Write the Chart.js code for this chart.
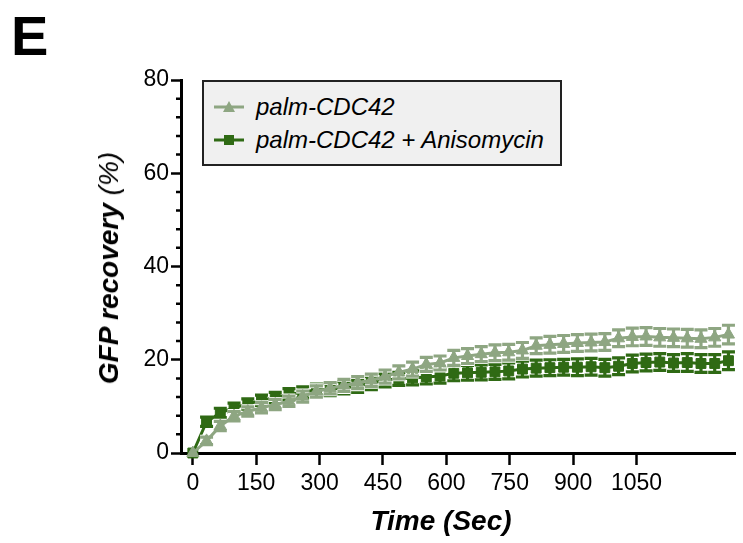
<!DOCTYPE html>
<html>
<head>
<meta charset="utf-8">
<script src="https://cdn.jsdelivr.net/npm/chart.js@4.4.1/dist/chart.umd.min.js"></script>
<style>
  body { margin: 0; background: #fff; }
  #wrap { position: relative; width: 743px; height: 543px; font-family: "Liberation Sans", Arial, sans-serif; }
  #c { position: absolute; left: 0; top: 0; }
  .lbl { position: absolute; color: #000; white-space: nowrap; }
  #panel { left: 11px; top: 3px; font-size: 56px; font-weight: bold; }
  #ytitle { left: 109px; top: 268px; font-size: 28px; font-style: italic; transform: translate(-50%, -50%) rotate(-90deg); }
  #xtitle { left: 441px; top: 521px; font-size: 28px; font-style: italic; font-weight: bold; transform: translate(-50%, -50%); }
  #legend { position: absolute; left: 202px; top: 80px; width: 356px; height: 82px; background: #f0f0f0; border: 2px solid #222; }
  .item { position: absolute; left: 10px; height: 30px; display: flex; align-items: center; font-size: 24px; font-style: italic; }
  .item svg { margin-right: 12px; }
</style>
</head>
<body>
<div id="wrap">
  <canvas id="c" width="743" height="543"></canvas>
  <div class="lbl" id="panel">E</div>
  <div class="lbl" id="ytitle"><b>GFP recovery</b> (%)</div>
  <div class="lbl" id="xtitle">Time (Sec)</div>
  <div id="legend">
    <div class="item" style="top:10px">
      <svg width="30" height="14"><line x1="0" y1="7" x2="30" y2="7" stroke="#8ea682" stroke-width="3"/><polygon points="15,1 21,12 9,12" fill="#8ea682"/></svg>
      palm-CDC42
    </div>
    <div class="item" style="top:43px">
      <svg width="30" height="14"><line x1="0" y1="7" x2="30" y2="7" stroke="#2f6a14" stroke-width="3"/><rect x="10" y="2" width="10" height="10" fill="#2f6a14"/></svg>
      palm-CDC42 + Anisomycin
    </div>
  </div>
</div>
<script>
// time points (sec)
const times = [0, 32.5, 65, 97.5, 130, 162.5, 195, 227.5, 260, 292.5, 325, 357.5, 390, 422.5, 455, 487.5, 520, 552.5, 585, 617.5,
  650, 682.5, 715, 747.5, 780, 812.5, 845, 877.5, 910, 942.5, 975, 1007.5, 1040, 1072.5, 1105, 1137.5, 1170, 1202.5, 1235, 1267.5];

// palm-CDC42
const palm = [0, 2.6, 5.8, 7.9, 8.9, 9.7, 10.4, 11.1, 12.1, 13.2, 13.9, 14.5, 15.1, 15.6, 16.4, 17.3, 18.0, 19.0, 19.3, 20.4,
  20.8, 21.2, 21.5, 21.6, 22.0, 23.0, 23.2, 23.4, 23.6, 23.7, 23.8, 24.6, 24.9, 25.0, 24.8, 24.7, 24.6, 24.5, 24.8, 25.4];
const palmErr = [0, 0.8, 1.0, 1.0, 1.0, 1.1, 1.1, 1.1, 1.2, 1.2, 1.2, 1.3, 1.3, 1.3, 1.4, 1.4, 1.5, 1.5, 1.5, 1.6,
  1.6, 1.6, 1.7, 1.7, 1.7, 1.7, 1.8, 1.8, 1.8, 1.8, 1.8, 1.8, 1.9, 1.9, 1.9, 1.9, 1.9, 1.9, 1.9, 2.0];

// palm-CDC42 + Anisomycin
const aniso = [0, 6.7, 8.6, 9.7, 10.5, 11.3, 11.9, 12.6, 13.0, 13.6, 13.6, 14.0, 14.3, 15.0, 15.6, 15.9, 16.1, 16.3, 16.5, 17.1,
  17.2, 17.3, 17.4, 17.6, 18.0, 18.2, 18.3, 18.4, 18.4, 18.5, 18.3, 18.6, 19.2, 19.4, 19.5, 19.3, 19.4, 19.2, 19.2, 19.8];
const anisoErr = [0, 1.0, 1.0, 1.0, 1.1, 1.1, 1.1, 1.2, 1.2, 1.2, 1.3, 1.3, 1.3, 1.4, 1.4, 1.4, 1.5, 1.5, 1.5, 1.6,
  1.6, 1.6, 1.6, 1.7, 1.7, 1.7, 1.7, 1.7, 1.8, 1.8, 1.8, 1.8, 1.8, 1.8, 1.8, 1.8, 1.9, 1.9, 1.9, 1.9];

const xTicks = [0, 150, 300, 450, 600, 750, 900, 1050];
const yTicks = [0, 20, 40, 60, 80];
const yMinor = [4, 8, 12, 16, 24, 28, 32, 36, 44, 48, 52, 56, 64, 68, 72, 76];

const LIGHT = '#8ea682';
const DARK = '#2f6a14';
const FONT = '"Liberation Sans", Arial, sans-serif';

const errorBars = {
  id: 'errorBars',
  beforeDatasetDraw(chart, args) {
    const ds = chart.data.datasets[args.index];
    const ys = chart.scales.y;
    const ctx = chart.ctx;
    ctx.save();
    args.meta.data.forEach((pt, i) => {
      const v = ds.data[i].y, e = ds.errors[i];
      if (!e) return;
      const top = ys.getPixelForValue(v + e), bot = ys.getPixelForValue(v - e);
      const x = pt.x, w = 6.5;
      [['#ffffff', 5], [ds.borderColor, 3.2]].forEach(([col, lw]) => {
        ctx.strokeStyle = col;
        ctx.lineWidth = lw;
        ctx.beginPath();
        ctx.moveTo(x, top); ctx.lineTo(x, bot);
        ctx.moveTo(x - w, top); ctx.lineTo(x + w, top);
        ctx.moveTo(x - w, bot); ctx.lineTo(x + w, bot);
        ctx.stroke();
      });
    });
    ctx.restore();
  }
};

const minorTicks = {
  id: 'minorTicks',
  afterDraw(chart) {
    const ys = chart.scales.y;
    const ctx = chart.ctx;
    const left = chart.chartArea.left;
    ctx.save();
    ctx.strokeStyle = '#000';
    ctx.lineWidth = 2.5;
    ctx.beginPath();
    yMinor.forEach(v => {
      const y = ys.getPixelForValue(v);
      ctx.moveTo(left - 5, y); ctx.lineTo(left, y);
    });
    ctx.stroke();
    ctx.restore();
  }
};

new Chart(document.getElementById('c'), {
  type: 'line',
  data: {
    datasets: [
      {
        label: 'palm-CDC42',
        data: times.map((t, i) => ({ x: t, y: palm[i] })),
        errors: palmErr,
        borderColor: LIGHT,
        backgroundColor: LIGHT,
        borderWidth: 3,
        pointStyle: 'triangle',
        pointRadius: 7,
        pointBorderWidth: 1,
        tension: 0,
        clip: false
      },
      {
        label: 'palm-CDC42 + Anisomycin',
        data: times.map((t, i) => ({ x: t, y: aniso[i] })),
        errors: anisoErr,
        borderColor: DARK,
        backgroundColor: DARK,
        borderWidth: 3,
        pointStyle: 'rect',
        pointRadius: 7,
        pointBorderWidth: 1,
        tension: 0,
        clip: false
      }
    ]
  },
  options: {
    responsive: false,
    devicePixelRatio: 1,
    animation: false,
    layout: { padding: { top: 80, left: 0, right: 0, bottom: 0 } },
    plugins: { legend: { display: false }, tooltip: { enabled: false } },
    scales: {
      x: {
        type: 'linear',
        min: -28,
        max: 1283,
        afterBuildTicks: s => { s.ticks = xTicks.map(v => ({ value: v })); },
        afterFit: s => { s.height = 90; },
        grid: { drawOnChartArea: false, drawTicks: true, tickLength: 12, tickWidth: 2.5, tickColor: '#000' },
        border: { display: true, color: '#000', width: 3 },
        ticks: { color: '#000', font: { family: FONT, size: 23 }, padding: 5, maxRotation: 0, autoSkip: false,
          callback: v => String(v) }
      },
      y: {
        min: 0,
        max: 80,
        afterBuildTicks: s => { s.ticks = yTicks.map(v => ({ value: v })); },
        afterFit: s => { s.width = 181; },
        grid: { drawOnChartArea: false, drawTicks: true, tickLength: 10, tickWidth: 2.5, tickColor: '#000' },
        border: { display: true, color: '#000', width: 3 },
        ticks: { color: '#000', font: { family: FONT, size: 23 }, padding: 2, callback: v => String(v) }
      }
    }
  },
  plugins: [errorBars, minorTicks]
});
</script>
</body>
</html>
